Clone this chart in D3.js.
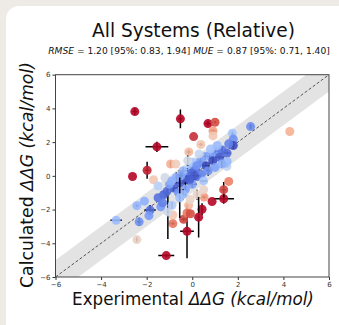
<!DOCTYPE html>
<html><head><meta charset="utf-8">
<script src="https://cdn.jsdelivr.net/npm/d3@7"></script>
<style>body{margin:0;background:#eeeae6;} svg{display:block;}</style>
</head><body>
<svg id="c" width="339" height="325"></svg>
<script>
const titleText = "All Systems (Relative)";
const xTicks = [-6,-4,-2,0,2,4,6];
const yTicks = [-6,-4,-2,0,2,4,6];
// experimental, calculated, x error, y error
const expVals = [-2.52,-0.52,-1.55,-1.98,-2.62,0.06,0.69,1.00,-1.14,-0.23,1.38,1.38,0.87,0.43,-0.38,
 -1.70,-0.95,-0.72,-0.15,0.38,0.91,0.91,4.28,1.60,0.52,-0.16,-0.23,-0.08,-0.85,-0.85,-2.43,
 -3.34,-2.43,-2.33,-1.85,-1.90,-1.38,-1.07,
 2.56,1.76,1.80,1.80,1.52,
 1.01,1.31,1.53,0.79,0.57,1.53,0.35,-0.09,0.13,-0.23,-0.53,-0.23,-0.01,0.21,-0.82,-1.11,-1.26,0.50,0.21,-0.09,-0.89,
 -1.0,-0.7,-0.4,0.0,0.3,0.6,0.9,1.2,0.4,0.7,1.0,-0.3,0.0,-0.6,-1.5,-1.3,-0.5,0.2,0.8,1.1,-1.2,-1.5,-0.2,0.5,1.3,1.6,-0.9,-0.4,-2.1,0.1,-0.1,-0.55,0.28];
const calcVals = [3.81,3.38,1.72,0.33,-0.04,2.33,3.10,3.18,-4.73,-3.29,-1.36,-0.82,-1.52,-1.98,-2.58,
 -0.23,0.70,0.70,1.42,1.86,2.67,2.37,2.63,-0.33,-1.26,-1.75,-2.20,-2.25,-2.83,-2.32,-3.78,
 -2.64,-1.77,-2.73,-2.03,-2.36,-1.83,-2.14,
 2.92,2.53,2.18,1.80,0.56,
 1.44,1.54,1.35,1.25,1.15,0.85,0.85,0.66,0.36,0.17,-0.43,-0.23,0.17,-0.04,-0.72,-0.92,-1.12,-0.82,-1.12,-1.41,-1.75,
 -0.5,-0.1,0.3,0.8,1.3,0.6,0.9,1.1,0.1,0.3,0.5,-0.8,-0.5,-1.0,-1.3,-1.6,0.0,0.6,1.6,1.8,-0.1,-0.6,0.9,-0.3,0.7,1.9,-0.3,-1.1,-1.5,0.0,-0.2,-1.3,-2.45];
const expErr = [0.1,0.1,0.5,0.1,0,0,0.15,0.05,0.35,0.3,0.45,0.1,0,0.05,0.1,
 0,0.05,0,0.1,0.1,0.1,0,0,0,0.1,0,0,0,0.1,0,0.05,
 0.25,0.05,0.1,0.25,0,0,0.05,
 0.05,0.05,0,0.05,0.1,
 0.1,0,0.15,0,0.2,0,0.1,0,0.2,0,0.25,0,0.1,0,0.2,0,0,0,0,0,0,
 0,0,0.2,0,0,0.15,0,0.2,0,0.1,0,0,0.2,0,0,0,0.1,0,0,0,0,0,0,0.15,0,0,0,0,0,0.2,0,0.05,0.05];
const calcErr = [0.2,0.55,0.3,0.5,0,0,0.15,0.05,0.1,1.6,0.3,0.45,0,0.35,0.1,
 0,0.2,0,0.15,0.1,0.1,0,0,0,0.1,0,0,0,0.1,0,0.15,
 0.05,0.05,0.25,0.3,0,0,1.6,
 0.15,0.1,0,0.2,0.1,
 0.1,0.2,0.1,0,0.2,0,0.3,0.4,0.2,0.3,0.25,0.2,0.1,0,0.2,0.3,0,0,0.3,0,0.2,
 0,0.3,0.2,0,0,0.2,0.2,0.1,0,0.3,0,0.4,0.2,0,0,0,0.2,0,0,0,0,0,0.3,0,0.2,0,0,0.3,0,0.25,0,1.2,1.2];

const svg = d3.select("#c");
svg.append("rect").attr("width",339).attr("height",325).attr("fill","#eeeae6");
svg.append("rect").attr("x",6).attr("y",6).attr("width",345).attr("height",332).attr("rx",13).attr("fill","#ffffff");

const X0=55.5, X1=329, Y0=74.7, Y1=277;
const x = d3.scaleLinear().domain([-6,6]).range([X0,X1]);
const y = d3.scaleLinear().domain([-6,6]).range([Y1,Y0]);

const cw = ["#3b4cc0","#5a78e4","#7b9ff9","#9ebeff","#c0d4f5","#dddcdc","#f2cbb7","#f7ac8e","#ee8468","#d65244","#b40426"];
const color = d3.scaleLinear().domain(d3.range(11).map(i=>i*0.24)).range(cw).clamp(true);

const defs = svg.append("defs");
defs.append("clipPath").attr("id","pc").append("rect").attr("x",X0).attr("y",Y0).attr("width",X1-X0).attr("height",Y1-Y0);
const g = svg.append("g").attr("clip-path","url(#pc)");

// shaded band +/-1
const band = [-7,7];
const area = d3.area().x(d=>x(d)).y0(d=>y(d-1)).y1(d=>y(d+1));
g.append("path").datum(band).attr("d",area).attr("fill","#d9d9d9").attr("opacity",0.75);
g.append("line").attr("x1",x(-6)).attr("y1",y(-6)).attr("x2",x(6)).attr("y2",y(6))
 .attr("stroke","#555").attr("stroke-width",1).attr("stroke-dasharray","3,2");

const pts = expVals.map((v,i)=>({x:v,y:calcVals[i],xe:expErr[i],ye:calcErr[i]}));
pts.forEach(p=>{
  const e = Math.abs(p.y-p.x);
  if(p.xe>0){
    g.append("line").attr("x1",x(p.x-p.xe)).attr("x2",x(p.x+p.xe)).attr("y1",y(p.y)).attr("y2",y(p.y)).attr("stroke","#000").attr("stroke-width",1.5);
  }
  if(p.ye>0){
    g.append("line").attr("x1",x(p.x)).attr("x2",x(p.x)).attr("y1",y(p.y-p.ye)).attr("y2",y(p.y+p.ye)).attr("stroke","#000").attr("stroke-width",1.5);
  }
  g.append("circle").attr("cx",x(p.x)).attr("cy",y(p.y)).attr("r",4.5).attr("fill",color(e)).attr("opacity",0.9);
});

// axes
const ax = svg.append("g").attr("transform",`translate(0,${Y1})`).call(d3.axisBottom(x).tickValues(xTicks).tickSize(3).tickPadding(2).tickFormat(d=>d<0?"\u2212"+(-d):d));
const ay = svg.append("g").attr("transform",`translate(${X0},0)`).call(d3.axisLeft(y).tickValues(yTicks).tickSize(3).tickPadding(2).tickFormat(d=>d<0?"\u2212"+(-d):d));
[ax,ay].forEach(a=>{a.select(".domain").remove();a.selectAll("line").attr("stroke","#333");a.selectAll("text").attr("font-family","DejaVu Sans").attr("font-size",7).attr("fill","#333");});
svg.append("rect").attr("x",X0).attr("y",Y0).attr("width",X1-X0).attr("height",Y1-Y0).attr("fill","none").attr("stroke","#444").attr("stroke-width",1);

function fit(t,w){const l=t.node().getComputedTextLength();const fs=+t.attr("font-size");t.attr("font-size",fs*w/l);}

const tt = svg.append("text").attr("x",193.5).attr("y",36.5).attr("text-anchor","middle").attr("font-family","DejaVu Sans").attr("font-size",18).attr("fill","#111").text(titleText);
fit(tt,203);

const st = svg.append("text").attr("x",189).attr("y",54).attr("text-anchor","middle").attr("font-family","DejaVu Sans").attr("font-size",8.5).attr("fill","#111");
st.append("tspan").attr("font-style","italic").text("RMSE");
st.append("tspan").text(" = 1.20 [95%: 0.83, 1.94] ");
st.append("tspan").attr("font-style","italic").text("MUE");
st.append("tspan").text(" = 0.87 [95%: 0.71, 1.40]");
fit(st,282);

function label(t,word){
  t.append("tspan").text(word+"  ");
  t.append("tspan").attr("font-style","italic").text("\u0394\u0394G");
  t.append("tspan").text(" ");
  t.append("tspan").attr("font-style","italic").text("(kcal/mol)");
}
const xl = svg.append("text").attr("x",193).attr("y",305).attr("text-anchor","middle").attr("font-family","DejaVu Sans").attr("font-size",17).attr("fill","#111");
label(xl,"Experimental"); fit(xl,242);
const yl = svg.append("text").attr("transform","translate(33,175) rotate(-90)").attr("text-anchor","middle").attr("font-family","DejaVu Sans").attr("font-size",17).attr("fill","#111");
label(yl,"Calculated"); fit(yl,226);
</script>
</body></html>
